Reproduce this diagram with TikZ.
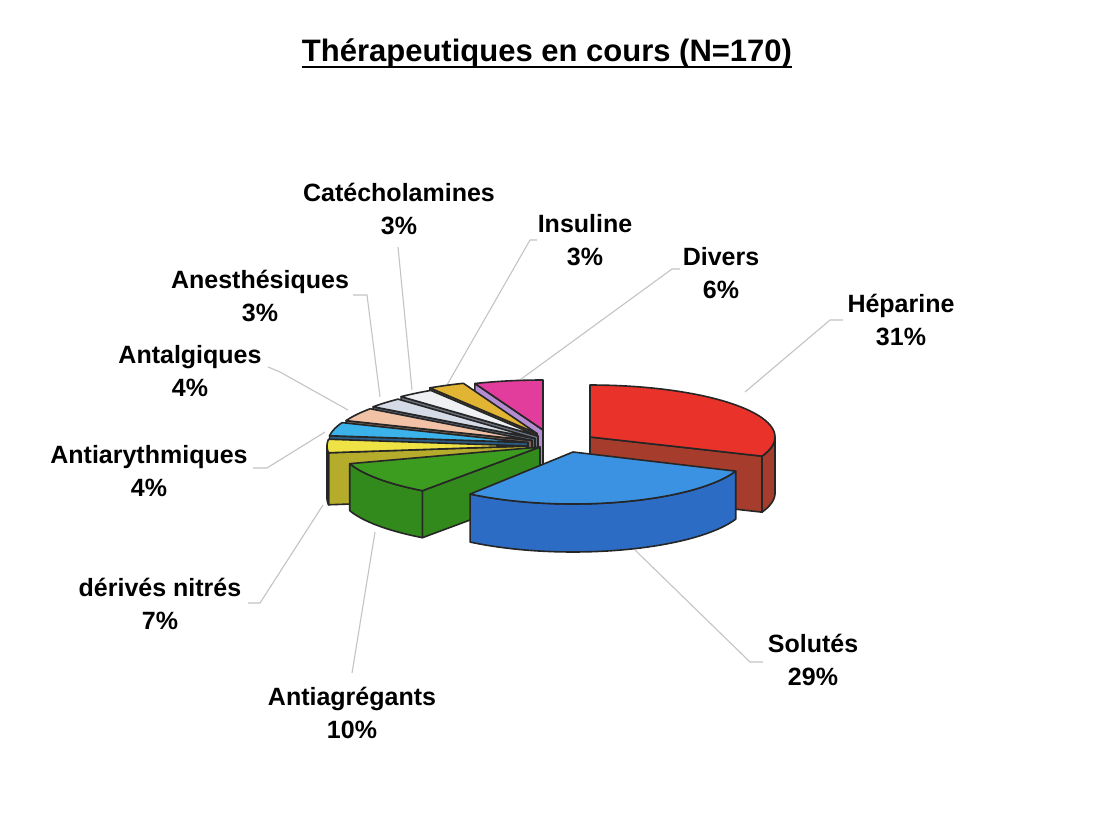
\documentclass[tikz,border=0pt]{standalone}
\usepackage{fontspec}
\setmainfont{Liberation Sans}
\definecolor{redtop}{HTML}{E8322A}\definecolor{redside}{HTML}{A63C2C}
\definecolor{bluetop}{HTML}{3C92E2}\definecolor{blueside}{HTML}{2C6CC4}
\definecolor{greentop}{HTML}{3C9C20}\definecolor{greenside}{HTML}{338A1C}
\definecolor{yeltop}{HTML}{EEE244}\definecolor{yelside}{HTML}{B4AC2A}
\definecolor{cyantop}{HTML}{3CB2EA}\definecolor{cyanside}{HTML}{2A5C86}
\definecolor{peachtop}{HTML}{F2C2A6}\definecolor{peachside}{HTML}{7C6458}
\definecolor{greytop}{HTML}{D4DAE6}\definecolor{greyside}{HTML}{5C6474}
\definecolor{whitetop}{HTML}{EEF0F4}\definecolor{whiteside}{HTML}{6C7280}
\definecolor{goldtop}{HTML}{E2B434}\definecolor{goldside}{HTML}{8C6C20}
\definecolor{pinktop}{HTML}{E23C9C}\definecolor{pinkside}{HTML}{B48CD2}
\definecolor{leader}{HTML}{C4C4C4}
\tikzset{
  pie/.style={draw=black!85, line width=1.6pt, line join=round},
  lab/.style={font=\fontsize{25}{33}\selectfont\bfseries, align=center, inner sep=0pt},
  leadline/.style={draw=leader, line width=1.1pt}
}
% cx cy rx ry a1 a2 color
\newcommand\topface[7]{\filldraw[pie, fill=#7] (#1,#2) -- plot[domain=#5:#6, samples=40] ({#1+#3*cos(\x)},{#2-#4*sin(\x)}) -- cycle;}
% cx cy rx ry h b1 b2 color
\newcommand\outerside[8]{\filldraw[pie, fill=#8] plot[domain=#6:#7, samples=40] ({#1+#3*cos(\x)},{#2-#4*sin(\x)}) -- plot[domain=#7:#6, samples=40] ({#1+#3*cos(\x)},{#2+#5-#4*sin(\x)}) -- cycle;}
% cx cy rx ry h a color
\newcommand\radface[7]{\filldraw[pie, fill=#7] (#1,#2) -- ({#1+#3*cos(#6)},{#2-#4*sin(#6)}) -- ({#1+#3*cos(#6)},{#2+#5-#4*sin(#6)}) -- (#1,{#2+#5}) -- cycle;}
\begin{document}
\begin{tikzpicture}[x=1pt, y=-1pt]
\useasboundingbox (0,0) rectangle (1094,829);
\fill[white] (0,0) rectangle (1094,829);

% title
\node[font=\fontsize{31}{36}\selectfont\bfseries, anchor=base, inner sep=0pt] (title) at (547,62) {Thérapeutiques en cours (N=170)};
\draw[line width=2.5pt] ([yshift=-5pt]title.base west) -- ([yshift=-5pt]title.base east);

% leader lines
\coordinate (catA) at (398,247); \coordinate (catB) at (412,390);
\coordinate (insA) at (537,240); \coordinate (insM) at (530,240); \coordinate (insB) at (447,385);
\coordinate (divA) at (680,269); \coordinate (divM) at (672,269); \coordinate (divB) at (517,382);
\coordinate (hepA) at (843,320); \coordinate (hepM) at (830,320); \coordinate (hepB) at (745,392);
\coordinate (solA) at (763,662); \coordinate (solM) at (750,662); \coordinate (solB) at (635,550);
\coordinate (agrA) at (352,673); \coordinate (agrB) at (375,532);
\coordinate (derA) at (248,603); \coordinate (derM) at (260,603); \coordinate (derB) at (323,505);
\coordinate (arrA) at (253,468); \coordinate (arrM) at (267,468); \coordinate (arrB) at (325,432);
\coordinate (antA) at (268,367); \coordinate (antM) at (280,372); \coordinate (antB) at (348,410);
\coordinate (aneA) at (353,295); \coordinate (aneM) at (367,295); \coordinate (aneB) at (380,397);
\draw[leadline] (catA) -- (catB);
\draw[leadline] (insA) -- (insM) -- (insB);
\draw[leadline] (divA) -- (divM) -- (divB);
\draw[leadline] (hepA) -- (hepM) -- (hepB);
\draw[leadline] (solA) -- (solM) -- (solB);
\draw[leadline] (agrA) -- (agrB);
\draw[leadline] (derA) -- (derM) -- (derB);
\draw[leadline] (arrA) -- (arrM) -- (arrB);
\draw[leadline] (antA) -- (antM) -- (antB);
\draw[leadline] (aneA) -- (aneM) -- (aneB);

% pie slices, back to front
% Divers
\radface{543}{430}{185}{50}{40}{111.6}{pinkside}
\topface{543}{430}{185}{50}{90}{111.6}{pinktop}
% Insuline
\radface{537}{433.5}{200}{54}{42}{122.4}{goldside}
\topface{537}{433.5}{200}{54}{111.6}{122.4}{goldtop}
% Catecholamines
\radface{538}{436}{200}{54}{42}{133.2}{whiteside}
\topface{538}{436}{200}{54}{122.4}{133.2}{whitetop}
% Anesthesiques
\radface{535}{438.5}{200}{54}{44}{144}{greyside}
\topface{535}{438.5}{200}{54}{133.2}{144}{greytop}
% Antalgiques
\radface{532}{440.5}{200}{54}{46}{158.4}{peachside}
\topface{532}{440.5}{200}{54}{144}{158.4}{peachtop}
% Antiarythmiques
\radface{528}{442.5}{200}{54}{48}{172.8}{cyanside}
\topface{528}{442.5}{200}{54}{158.4}{172.8}{cyantop}
% derives nitres
\radface{527}{446}{200}{54}{52}{187.2}{yelside}
\outerside{527}{446}{200}{54}{52}{180}{187.2}{yelside}
\topface{527}{446}{200}{54}{172.8}{187.2}{yeltop}
% Heparine
\radface{590}{437}{185}{52}{56}{-21.6}{redside}
\outerside{590}{437}{185}{52}{56}{-21.6}{0}{redside}
\topface{590}{437}{185}{52}{-21.6}{90}{redtop}
% Antiagregants
\radface{540}{447}{200}{54}{47}{234}{greenside}
\outerside{540}{447}{200}{54}{47}{198}{234}{greenside}
\topface{540}{447}{200}{54}{198}{234}{greentop}
% Solutes
\outerside{573}{452}{175}{52}{48}{234}{338.4}{blueside}
\topface{573}{452}{175}{52}{234}{338.4}{bluetop}

% labels
\node[lab] (cat) at (399,209) {Catécholamines\\3\%};
\node[lab] (ins) at (585,240) {Insuline\\3\%};
\node[lab] (div) at (721,273) {Divers\\6\%};
\node[lab] (hep) at (901,320) {Héparine\\31\%};
\node[lab] (ane) at (260,296) {Anesthésiques\\3\%};
\node[lab] (ant) at (190,371) {Antalgiques\\4\%};
\node[lab] (arr) at (149,471) {Antiarythmiques\\4\%};
\node[lab] (der) at (160,604) {dérivés nitrés\\7\%};
\node[lab] (agr) at (352,713) {Antiagrégants\\10\%};
\node[lab] (sol) at (813,660) {Solutés\\29\%};
\end{tikzpicture}
\end{document}
